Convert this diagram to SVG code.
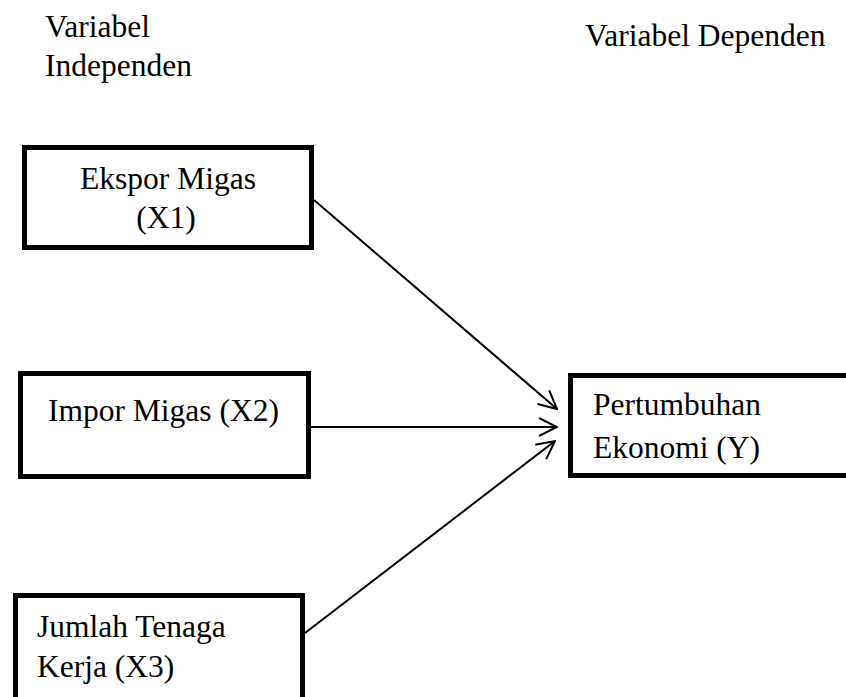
<svg xmlns="http://www.w3.org/2000/svg" width="846" height="697" viewBox="0 0 846 697">
  <style>
    .box { fill: #fff; stroke: #000; stroke-width: 5; }
    .t { font-family: "Liberation Serif", "Times New Roman", serif; font-size: 31.5px; fill: #000; }
    .c { stroke: #000; stroke-width: 2; fill: none; }
  </style>
  <defs>
    <marker id="arr" viewBox="0 0 20 20" refX="19" refY="10" markerWidth="20" markerHeight="20" markerUnits="userSpaceOnUse" orient="auto">
      <path d="M1,1 L19,10 L1,19" fill="none" stroke="#000" stroke-width="2"/>
    </marker>
  </defs>
  <rect width="846" height="697" fill="#fff"/>
  <g id="labels">
    <text class="t" x="45" y="37">Variabel</text>
    <text class="t" x="45" y="76">Independen</text>
    <text class="t" x="585" y="46">Variabel Dependen</text>
  </g>
  <g id="x1">
    <rect class="box" x="24.5" y="147.5" width="287" height="100"/>
    <text class="t" x="168" y="189" text-anchor="middle">Ekspor Migas</text>
    <text class="t" x="166" y="228" text-anchor="middle">(X1)</text>
  </g>
  <g id="x2">
    <rect class="box" x="20.5" y="373.5" width="288" height="103"/>
    <text class="t" x="48" y="421">Impor Migas (X2)</text>
  </g>
  <g id="x3">
    <rect class="box" x="15.5" y="595.5" width="287" height="130"/>
    <text class="t" x="37" y="637">Jumlah Tenaga</text>
    <text class="t" x="37" y="677">Kerja (X3)</text>
  </g>
  <g id="y">
    <rect class="box" x="570.5" y="375.5" width="300" height="100"/>
    <text class="t" x="593" y="415">Pertumbuhan</text>
    <text class="t" x="593" y="458">Ekonomi (Y)</text>
  </g>
  <g id="connectors">
    <line class="c" x1="314" y1="200" x2="557" y2="409" marker-end="url(#arr)"/>
    <line class="c" x1="311" y1="427" x2="557" y2="427" marker-end="url(#arr)"/>
    <line class="c" x1="305" y1="633" x2="555" y2="441" marker-end="url(#arr)"/>
  </g>
</svg>
